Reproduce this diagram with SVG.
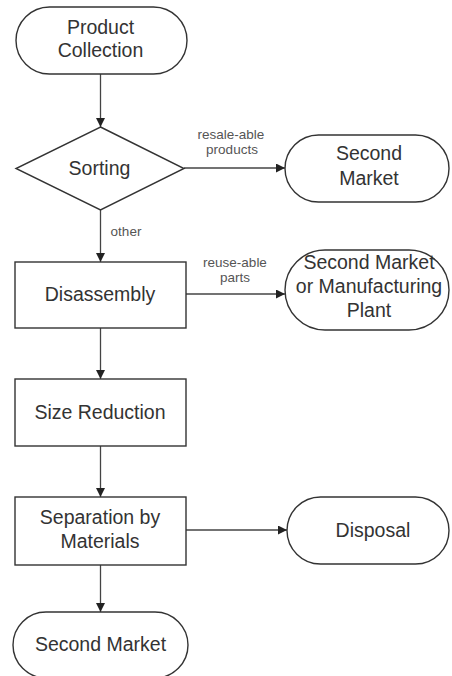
<svg xmlns="http://www.w3.org/2000/svg" width="452" height="676" viewBox="0 0 452 676">
<defs>
<style>
.s{fill:#fff;stroke:#333;stroke-width:1.4}
.t{font-family:"Liberation Sans",Arial,sans-serif;font-size:19.5px;fill:#333;text-anchor:middle}
.l{font-family:"Liberation Sans",Arial,sans-serif;font-size:13.5px;fill:#555;text-anchor:middle}
.c{fill:none;stroke:#444;stroke-width:1.3}
</style>
<marker id="a" viewBox="0 0 10 10" refX="10" refY="5" markerWidth="9" markerHeight="9" markerUnits="userSpaceOnUse" orient="auto">
<path d="M0,0 L10,5 L0,10 Z" fill="#222"/>
</marker>
</defs>
<rect width="452" height="676" fill="#fff"/>
<g id="connectors">
<path class="c" d="M100.5,74 V127" marker-end="url(#a)"/>
<path class="c" d="M184,168 H285" marker-end="url(#a)"/>
<path class="c" d="M100.5,210 V262" marker-end="url(#a)"/>
<path class="c" d="M186,294 H285" marker-end="url(#a)"/>
<path class="c" d="M100.5,328 V379" marker-end="url(#a)"/>
<path class="c" d="M100.5,446 V497" marker-end="url(#a)"/>
<path class="c" d="M186,530 H287" marker-end="url(#a)"/>
<path class="c" d="M100.5,565 V612" marker-end="url(#a)"/>
<text class="l" x="231" y="139">resale-able</text>
<text class="l" x="232" y="154">products</text>
<text class="l" x="126" y="236">other</text>
<text class="l" x="235" y="267">reuse-able</text>
<text class="l" x="235" y="282">parts</text>
</g>
<g id="product-collection">
<rect class="s" x="16" y="7" width="171" height="67" rx="33.5"/>
<text class="t" x="100.5" y="34">Product</text>
<text class="t" x="100.5" y="57">Collection</text>
</g>
<g id="sorting">
<polygon class="s" points="100.5,127 184,168.5 100.5,210 16,168.5"/>
<text class="t" x="99.5" y="175">Sorting</text>
</g>
<g id="second-market-1">
<rect class="s" x="285" y="135" width="164" height="67" rx="33.5"/>
<text class="t" x="369" y="160">Second</text>
<text class="t" x="369" y="185">Market</text>
</g>
<g id="disassembly">
<rect class="s" x="15" y="262" width="171" height="66"/>
<text class="t" x="100" y="301">Disassembly</text>
</g>
<g id="second-market-or-plant">
<rect class="s" x="285" y="250" width="164" height="80" rx="40"/>
<text class="t" x="369" y="269">Second Market</text>
<text class="t" x="369" y="293">or Manufacturing</text>
<text class="t" x="369" y="317">Plant</text>
</g>
<g id="size-reduction">
<rect class="s" x="15" y="379" width="171" height="67"/>
<text class="t" x="100" y="419">Size Reduction</text>
</g>
<g id="separation">
<rect class="s" x="15" y="497" width="171" height="68"/>
<text class="t" x="100" y="524">Separation by</text>
<text class="t" x="100" y="548">Materials</text>
</g>
<g id="disposal">
<rect class="s" x="287" y="497" width="162" height="67" rx="33.5"/>
<text class="t" x="373" y="537">Disposal</text>
</g>
<g id="second-market-2">
<rect class="s" x="13" y="612" width="175" height="66" rx="33"/>
<text class="t" x="100.5" y="651">Second Market</text>
</g>
</svg>
